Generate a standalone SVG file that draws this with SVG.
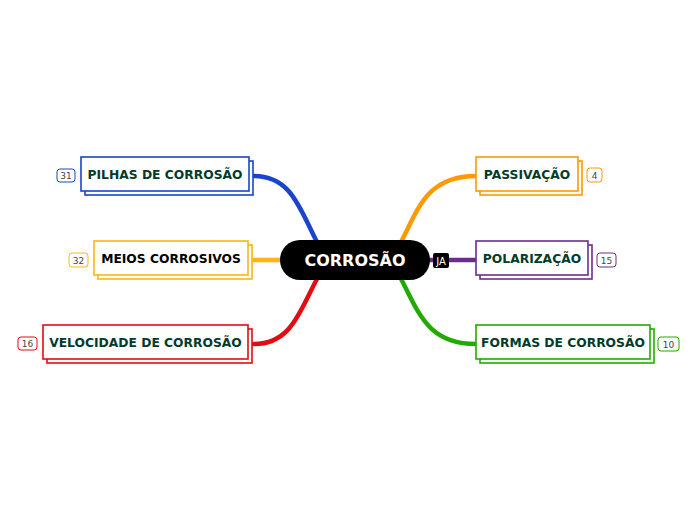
<svg xmlns="http://www.w3.org/2000/svg" width="696" height="520" viewBox="0 0 696 520">
<style>
.lbl{font-family:"DejaVu Sans",Verdana,sans-serif;font-weight:bold;font-size:12.3px;fill:#003b2a;text-anchor:middle}
.bd{font-family:"DejaVu Sans",Verdana,sans-serif;font-size:9px;fill:#444;text-anchor:middle}
.c{fill:none;stroke-width:4.5;stroke-linecap:round}
rect.f,rect.s{fill:#fff;stroke-width:1.6}
rect.b{fill:#fff;stroke-width:1}
</style>
<rect width="696" height="520" fill="#fff"/>
<g id="connectors">
<path class="c" stroke="#1a44cc" d="M318 244 C300 210 292 176 254 176"/>
<path class="c" stroke="#fdb515" d="M282 260 L253 260"/>
<path class="c" stroke="#e00d12" d="M318 277 C300 310 292 344 254 344"/>
<path class="c" stroke="#ff9900" d="M400 244 C418 210 426 176 476 176"/>
<path class="c" stroke="#6a2c91" d="M430 260 L476 260"/>
<path class="c" stroke="#22aa00" d="M400 277 C418 310 426 344 476 344"/>
</g>
<g id="center">
<rect x="280" y="240" width="150" height="40" rx="20" fill="#000"/>
<text x="355" y="266" font-family="DejaVu Sans,Verdana,sans-serif" font-weight="bold" font-size="16" fill="#fff" text-anchor="middle">CORROSÃO</text>
<rect x="433" y="253" width="16" height="15" rx="2" fill="#000"/>
<text x="441" y="264.5" font-family="DejaVu Sans,Verdana,sans-serif" font-size="10" fill="#fff" text-anchor="middle">JA</text>
</g>
<g id="pilhas">
<rect class="s" x="85" y="161" width="168" height="34" stroke="#1a44cc"/>
<rect class="f" x="81" y="157" width="168" height="34" stroke="#1a44cc"/>
<text class="lbl" x="165" y="179">PILHAS DE CORROSÃO</text>
<rect class="b" x="57" y="169" width="18" height="13" rx="3" stroke="#1a44cc"/>
<text class="bd" x="66" y="179">31</text>
</g>
<g id="meios">
<rect class="s" x="98" y="245" width="154" height="34" stroke="#fdb515"/>
<rect class="f" x="94" y="241" width="154" height="34" stroke="#fdb515"/>
<text class="lbl" x="171" y="263" style="fill:#000">MEIOS CORROSIVOS</text>
<rect class="b" x="69" y="253" width="19" height="14" rx="3" stroke="#fdb515"/>
<text class="bd" x="78.5" y="263.5">32</text>
</g>
<g id="velocidade">
<rect class="s" x="47" y="329" width="205" height="34" stroke="#e00d12"/>
<rect class="f" x="43" y="325" width="205" height="34" stroke="#e00d12"/>
<text class="lbl" x="145.5" y="347">VELOCIDADE DE CORROSÃO</text>
<rect class="b" x="18" y="337" width="19" height="13" rx="3" stroke="#e00d12"/>
<text class="bd" x="27.5" y="347">16</text>
</g>
<g id="passivacao">
<rect class="s" x="480" y="161" width="102" height="34" stroke="#ff9900"/>
<rect class="f" x="476" y="157" width="102" height="34" stroke="#ff9900"/>
<text class="lbl" x="527" y="179">PASSIVAÇÃO</text>
<rect class="b" x="587" y="168" width="15" height="14" rx="3" stroke="#ff9900"/>
<text class="bd" x="594.5" y="178.5">4</text>
</g>
<g id="polarizacao">
<rect class="s" x="480" y="245" width="112" height="34" stroke="#6a2c91"/>
<rect class="f" x="476" y="241" width="112" height="34" stroke="#6a2c91"/>
<text class="lbl" x="532" y="263">POLARIZAÇÃO</text>
<rect class="b" x="597" y="253" width="19" height="14" rx="3" stroke="#6a2c91"/>
<text class="bd" x="606.5" y="263.5">15</text>
</g>
<g id="formas">
<rect class="s" x="480" y="329" width="174" height="34" stroke="#22aa00"/>
<rect class="f" x="476" y="325" width="174" height="34" stroke="#22aa00"/>
<text class="lbl" x="563" y="347">FORMAS DE CORROSÃO</text>
<rect class="b" x="658" y="337" width="21" height="14" rx="3" stroke="#22aa00"/>
<text class="bd" x="668.5" y="347.5">10</text>
</g>
</svg>
